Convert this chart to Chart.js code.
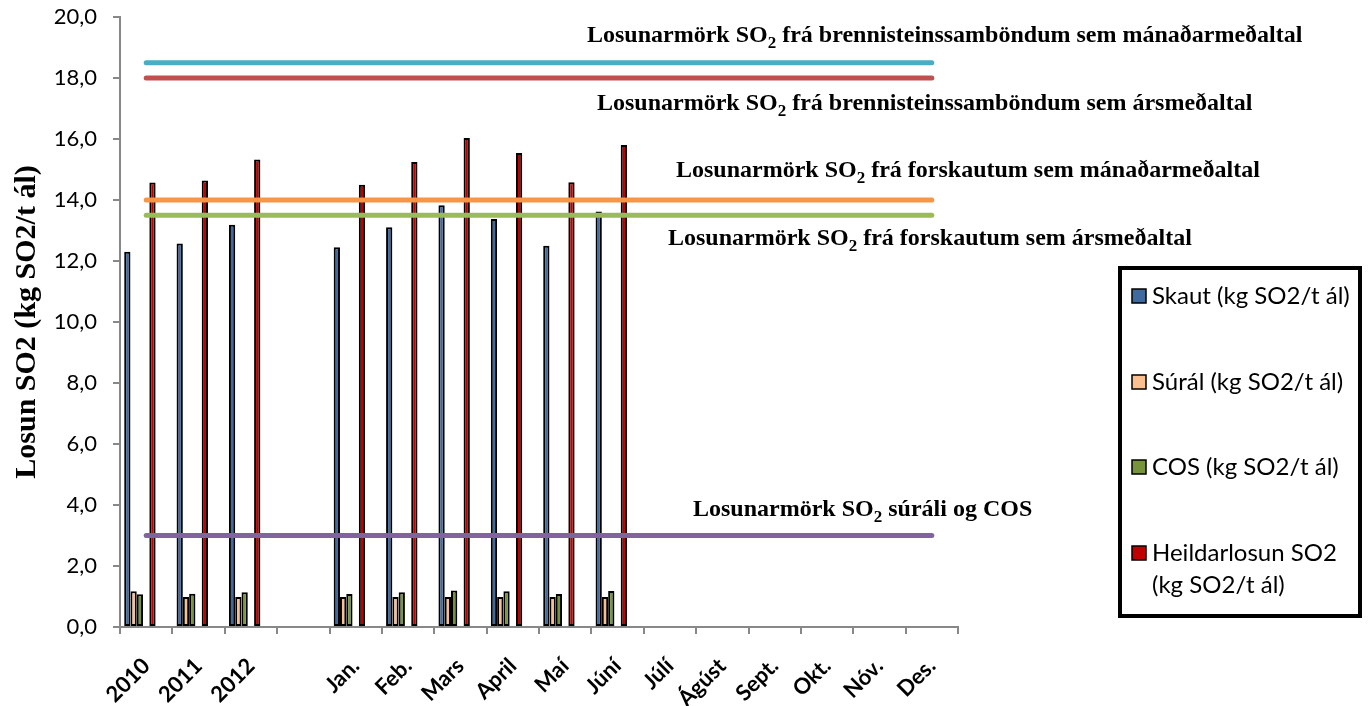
<!DOCTYPE html>
<html>
<head>
<meta charset="utf-8">
<script src="https://cdn.jsdelivr.net/npm/chart.js@4"></script>
<style>
html,body{margin:0;padding:0;background:#fff;}
#wrap{width:1370px;height:706px;}
</style>
</head>
<body>
<div id="wrap"><canvas id="c" width="1370" height="706"></canvas></div>
<script>
// ---- data ----
const categories = ['2010','2011','2012','','Jan.','Feb.','Mars','April','Maí','Júní','Júlí','Ágúst','Sept.','Okt.','Nóv.','Des.'];
const seriesNames = ['Skaut (kg SO2/t ál)', 'Súrál (kg SO2/t ál)', 'COS (kg SO2/t ál)', 'Heildarlosun SO2\n(kg SO2/t ál)'];
const skaut  = [12.30, 12.57, 13.19, null, 12.45, 13.11, 13.83, 13.38, 12.50, 13.62, null, null, null, null, null, null];
const sural  = [1.17, 0.98, 0.98, null, 0.98, 0.98, 0.98, 0.98, 0.98, 0.98, null, null, null, null, null, null];
const cos    = [1.07, 1.09, 1.14, null, 1.08, 1.14, 1.20, 1.17, 1.08, 1.18, null, null, null, null, null, null];
const heild  = [14.57, 14.64, 15.33, null, 14.50, 15.25, 16.03, 15.54, 14.58, 15.80, null, null, null, null, null, null];
const limitValues = [18.5, 18.0, 14.0, 13.5, 3.0];
const limitTexts = [
  ['Losunarmörk SO', '2', ' frá brennisteinssamböndum sem mánaðarmeðaltal'],
  ['Losunarmörk SO', '2', ' frá brennisteinssamböndum sem ársmeðaltal'],
  ['Losunarmörk SO', '2', ' frá forskautum sem mánaðarmeðaltal'],
  ['Losunarmörk SO', '2', ' frá forskautum sem ársmeðaltal'],
  ['Losunarmörk SO', '2', ' súráli og COS']
];
const yTicks = [0, 2, 4, 6, 8, 10, 12, 14, 16, 18, 20];
const yTitle = 'Losun SO2 (kg SO2/t ál)';

// ---- style / layout ----
const barColors = ['#3F6A9F', '#FAC08F', '#77933C', '#C00000'];
const limitColors = ['#4BACC6', '#C0504D', '#F79646', '#9BBB59', '#8064A2'];
const limitTextPos = [[587, 42], [597, 110], [676, 177], [668, 245], [693, 516]];
const legendBox = {x: 1120, y: 268, w: 240, h: 348};
const legendItemY = [296, 382, 467, 553];

Chart.defaults.color = '#000';
Chart.defaults.font.family = 'Lato';

const barSeries = [skaut, sural, cos, heild];
const barDatasets = [];
barSeries.forEach((vals, i) => {
  barDatasets.push({
    type: 'bar', label: seriesNames[i], data: vals,
    backgroundColor: barColors[i], borderColor: '#000', borderWidth: 2,
    borderSkipped: false, order: 1, barPercentage: 1, categoryPercentage: 0.84
  });
  if (i === 2) {
    barDatasets.push({type: 'bar', label: '', data: [], order: 1, barPercentage: 1, categoryPercentage: 0.84});
  }
});
barDatasets.push({type: 'bar', label: '', data: [], order: 1, barPercentage: 1, categoryPercentage: 0.84});
barDatasets.push({type: 'bar', label: '', data: [], order: 1, barPercentage: 1, categoryPercentage: 0.84});

const lineDatasets = limitValues.map((v, i) => ({
  type: 'line', label: limitTexts[i].join(''),
  data: [{x: categories[0], y: v}, {x: categories[categories.length - 1], y: v}],
  borderColor: limitColors[i], borderWidth: 5, borderCapStyle: 'round',
  pointRadius: 0, fill: false, order: 0
}));

const overlay = {
  id: 'overlay',
  afterDraw(chart) {
    const ctx = chart.ctx;
    ctx.save();
    // limit labels
    ctx.fillStyle = '#000';
    ctx.textBaseline = 'alphabetic';
    ctx.textAlign = 'left';
    limitTexts.forEach((parts, i) => {
      let [x, y] = limitTextPos[i];
      ctx.font = 'bold 24px "Liberation Serif"';
      ctx.fillText(parts[0], x, y);
      x += ctx.measureText(parts[0]).width;
      ctx.font = 'bold 17px "Liberation Serif"';
      ctx.fillText(parts[1], x, y + 6);
      x += ctx.measureText(parts[1]).width;
      ctx.font = 'bold 24px "Liberation Serif"';
      ctx.fillText(parts[2], x, y);
    });
    // legend
    ctx.lineWidth = 4;
    ctx.strokeStyle = '#000';
    ctx.strokeRect(legendBox.x, legendBox.y, legendBox.w, legendBox.h);
    const items = chart.data.datasets.filter(d => d.type === 'bar' && d.label);
    ctx.font = '24px Lato';
    ctx.textBaseline = 'middle';
    items.forEach((d, i) => {
      const cy = legendItemY[i];
      ctx.fillStyle = d.backgroundColor;
      ctx.fillRect(1132, cy - 7, 14, 14);
      ctx.lineWidth = 1.5;
      ctx.strokeStyle = '#000';
      ctx.strokeRect(1132, cy - 7, 14, 14);
      ctx.fillStyle = '#000';
      d.label.split('\n').forEach((ln, k) => ctx.fillText(ln, 1152, cy + k * 32));
    });
    ctx.restore();
  }
};

new Chart(document.getElementById('c'), {
  data: {labels: categories, datasets: [...lineDatasets, ...barDatasets]},
  options: {
    responsive: false,
    animation: false,
    devicePixelRatio: 1,
    layout: {padding: {top: 17, right: 412, bottom: 0, left: 0}},
    plugins: {legend: {display: false}, tooltip: {enabled: false}},
    scales: {
      x: {
        type: 'category',
        offset: true,
        afterFit(scale) { scale.height = 79; scale.paddingTop = 0; scale.paddingBottom = 0; },
        grid: {display: true, offset: true, drawOnChartArea: false, drawTicks: true, tickLength: 7, color: '#888', lineWidth: 2},
        border: {display: true, color: '#888', width: 2},
        ticks: {autoSkip: false, minRotation: 45, maxRotation: 45, padding: 19,
                font: {family: 'Lato', size: 22, weight: 'bold'}, color: '#000'}
      },
      y: {
        min: 0, max: 20,
        afterFit(scale) { scale.width = 120; scale.paddingTop = 0; scale.paddingBottom = 0; },
        afterBuildTicks(scale) { scale.ticks = yTicks.map(v => ({value: v})); },
        grid: {display: true, drawOnChartArea: false, drawTicks: true, tickLength: 7, color: '#888', lineWidth: 2},
        border: {display: true, color: '#888', width: 2},
        ticks: {padding: 16, font: {family: 'Lato', size: 22}, color: '#000',
                callback: v => v.toFixed(1).replace('.', ',')},
        title: {display: true, text: yTitle, color: '#000',
                font: {family: 'Liberation Serif', size: 30, weight: 'bold'},
                padding: {top: 9, bottom: 0}}
      }
    }
  },
  plugins: [overlay]
});
</script>
</body>
</html>
